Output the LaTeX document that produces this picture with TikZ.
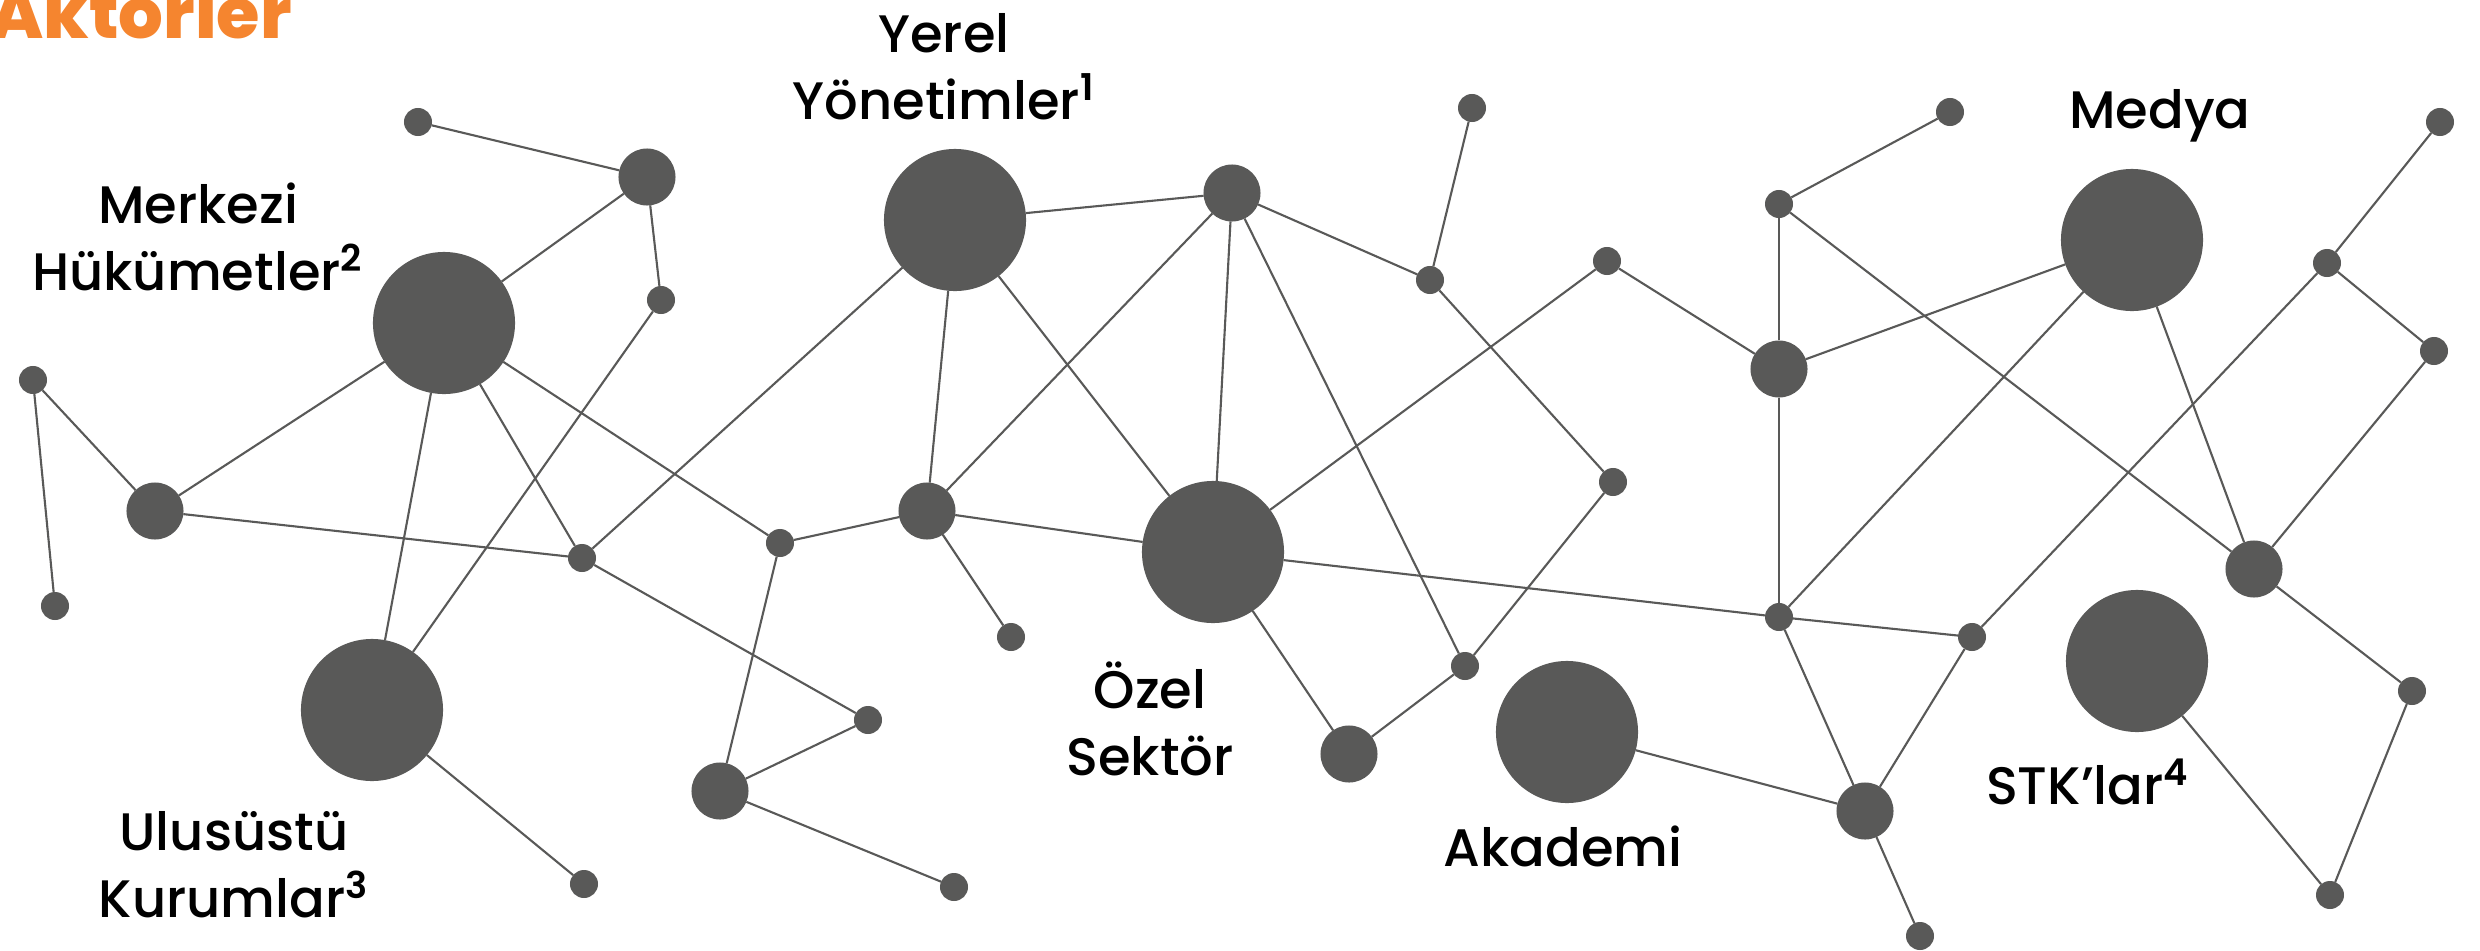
\documentclass[tikz,border=0pt]{standalone}
\usepackage{fontspec}
\setmainfont{Poppins}[UprightFont={Poppins Medium},BoldFont={Poppins ExtraBold}]
\newfontfamily\supfont{Poppins}[UprightFont={Poppins SemiBold}]
\definecolor{netgray}{HTML}{595958}
\definecolor{titleorange}{HTML}{F5852F}
\newcommand{\fnmark}[1]{\textsuperscript{\supfont #1}}
\begin{document}
\begin{tikzpicture}[x=0.01cm,y=-0.01cm,
  big/.style={circle,fill=netgray,minimum size=1.42cm,inner sep=0pt,outer sep=0pt},
  mid/.style={circle,fill=netgray,minimum size=0.57cm,inner sep=0pt,outer sep=0pt},
  sml/.style={circle,fill=netgray,minimum size=0.28cm,inner sep=0pt,outer sep=0pt},
  link/.style={draw=netgray,line width=0.6pt},
  lbl/.style={align=center,font=\fontsize{15}{19}\selectfont,text=black,inner sep=0pt,anchor=base}]
\useasboundingbox (0,0) rectangle (2480,951);
% title
\node[anchor=base west,inner sep=0pt,text=titleorange,font=\fontsize{20}{22}\selectfont\bfseries] (title) at (-10,38) {Aktörler};
% big nodes
\node[big] (MH) at (444,323) {};
\node[big] (YY) at (955,220) {};
\node[big] (UK) at (372,710) {};
\node[big] (OS) at (1213,552) {};
\node[big] (AK) at (1567,732) {};
\node[big] (ME) at (2132,240) {};
\node[big] (ST) at (2137,661) {};
% medium nodes
\node[mid] (a1) at (647,177) {};
\node[mid] (a2) at (155,511) {};
\node[mid] (a3) at (927,511) {};
\node[mid] (a4) at (1232,193) {};
\node[mid] (a5) at (1779,369) {};
\node[mid] (a6) at (720,791) {};
\node[mid] (a7) at (1349,754) {};
\node[mid] (a8) at (2254,569) {};
\node[mid] (a9) at (1865,811) {};
% small nodes
\node[sml] (s1) at (418,122) {};
\node[sml] (s2) at (661,300) {};
\node[sml] (s3) at (33,380) {};
\node[sml] (s4) at (55,606) {};
\node[sml] (s5) at (582,558) {};
\node[sml] (s6) at (780,543) {};
\node[sml] (s7) at (868,720) {};
\node[sml] (s8) at (954,887) {};
\node[sml] (s9) at (584,884) {};
\node[sml] (s10) at (1011,637) {};
\node[sml] (s11) at (1472,108) {};
\node[sml] (s12) at (1430,280) {};
\node[sml] (s13) at (1607,261) {};
\node[sml] (s14) at (1613,482) {};
\node[sml] (s15) at (1465,666) {};
\node[sml] (s16) at (1779,204) {};
\node[sml] (s17) at (1950,112) {};
\node[sml] (s18) at (1779,617) {};
\node[sml] (s19) at (1972,637) {};
\node[sml] (s20) at (1920,936) {};
\node[sml] (s21) at (2440,122) {};
\node[sml] (s22) at (2327,263) {};
\node[sml] (s23) at (2434,351) {};
\node[sml] (s24) at (2412,691) {};
\node[sml] (s25) at (2330,895) {};
% links
\foreach \u/\v in {s1/a1, a1/MH, a1/s2, s2/UK, MH/a2, MH/UK, MH/s5, MH/s6,
  s3/a2, s3/s4, a2/s5, s5/YY, s5/s7, s7/a6, a6/s6, a6/s8, UK/s9,
  s6/a3, a3/YY, a3/a4, a3/s10, a3/OS, YY/a4, YY/OS, a4/OS, a4/s15, a4/s12,
  s12/s11, s12/s14, s14/s15, s15/a7, OS/a7, OS/s13, s13/a5, OS/s18, s18/s19,
  a5/s16, s16/s17, s16/a8, a5/ME, a5/s18, ME/s18, ME/a8, s18/a9, s19/a9,
  s19/s22, AK/a9, a9/s20, s22/s21, s22/s23, s23/a8, a8/s24, s24/s25, ST/s25}
  \draw[link] (\u) -- (\v);
% labels (anchor = baseline of the last line)
\node[lbl] (lYY) at (944,119) {Yerel\\Yönetimler\fnmark{1}};
\node[lbl] (lMH) at (198,290) {Merkezi\\Hükümetler\fnmark{2}};
\node[lbl] (lUK) at (234,917) {Ulusüstü\\Kurumlar\fnmark{3}};
\node[lbl] (lOS) at (1150,775) {Özel\\Sektör};
\node[lbl] (lAK) at (1563,866) {Akademi};
\node[lbl] (lME) at (2160,128) {Medya};
\node[lbl] (lST) at (2088,804) {STK’lar\fnmark{4}};
\end{tikzpicture}
\end{document}
